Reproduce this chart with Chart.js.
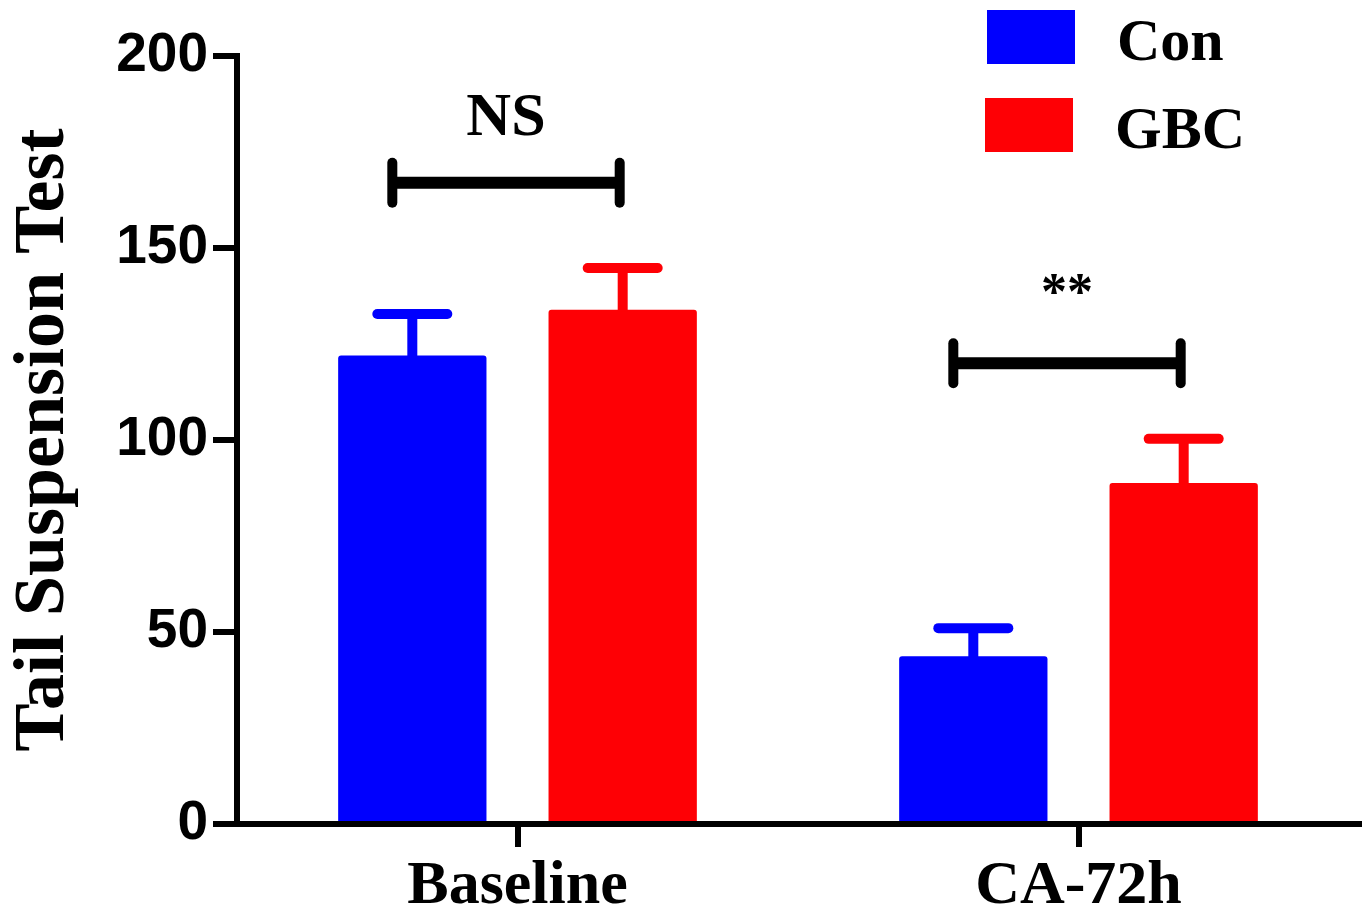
<!DOCTYPE html>
<html>
<head>
<meta charset="utf-8">
<script src="https://cdn.jsdelivr.net/npm/chart.js@4.4.0/dist/chart.umd.min.js"></script>
<style>
    html, body { margin: 0; padding: 0; background: #fff; }
    #wrap { width: 1365px; height: 921px; }
</style>
</head>
<body>
<div id="wrap"><canvas id="tstChart" width="1365" height="921"></canvas></div>
<script>
// Данные графика
const categories = ['Baseline', 'CA-72h'];
const seriesNames = ['Con', 'GBC'];
const conMeans = [122.0, 43.7];
const gbcMeans = [133.9, 88.8];
const conSem = [10.8, 7.3];
const gbcSem = [10.9, 11.5];
const yTicks = [0, 50, 100, 150, 200];
const sigLabels = ['NS', '**'];
const sigLevels = [167, 120];

const SERIF = "'Liberation Serif', 'Times New Roman', serif";
const SANS = "'Liberation Sans', Arial, sans-serif";
const BLUE = 'rgb(0, 0, 254)';
const RED = 'rgb(254, 0, 5)';

// Планки погрешностей (только вверх)
const errorBarsPlugin = {
    id: 'errorBars',
    afterDatasetsDraw(chart) {
        const ctx = chart.ctx;
        const yScale = chart.scales.y;
        const semSets = [conSem, gbcSem];
        chart.data.datasets.forEach((ds, di) => {
            const meta = chart.getDatasetMeta(di);
            meta.data.forEach((bar, i) => {
                const top = yScale.getPixelForValue(ds.data[i] + semSets[di][i]);
                ctx.save();
                ctx.strokeStyle = ds.backgroundColor;
                ctx.lineWidth = 10;
                ctx.lineCap = 'butt';
                ctx.beginPath();
                ctx.moveTo(bar.x, bar.y + 2);
                ctx.lineTo(bar.x, top);
                ctx.stroke();
                ctx.lineCap = 'round';
                ctx.beginPath();
                ctx.moveTo(bar.x - 35, top);
                ctx.lineTo(bar.x + 35, top);
                ctx.stroke();
                ctx.restore();
            });
        });
    }
};

// Скобки значимости и подписи
const sigPlugin = {
    id: 'sigBrackets',
    afterDraw(chart) {
        const ctx = chart.ctx;
        const yScale = chart.scales.y;
        const a = chart.getDatasetMeta(0).data;
        const b = chart.getDatasetMeta(1).data;
        categories.forEach((c, i) => {
            const x1 = a[i].x - 20;
            const x2 = b[i].x - 3;
            const yy = yScale.getPixelForValue(sigLevels[i]);
            ctx.save();
            ctx.strokeStyle = '#000';
            ctx.lineCap = 'butt';
            ctx.lineWidth = 12;
            ctx.beginPath();
            ctx.moveTo(x1, yy);
            ctx.lineTo(x2, yy);
            ctx.stroke();
            ctx.lineCap = 'round';
            ctx.lineWidth = 10;
            [x1, x2].forEach(x => {
                ctx.beginPath();
                ctx.moveTo(x, yy - 20);
                ctx.lineTo(x, yy + 20);
                ctx.stroke();
            });
            ctx.fillStyle = '#000';
            ctx.textAlign = 'center';
            ctx.textBaseline = 'alphabetic';
            if (sigLabels[i] === '**') {
                ctx.font = 'bold 52px ' + SERIF;
                ctx.fillText(sigLabels[i], (x1 + x2) / 2, yy - 54);
            } else {
                ctx.font = 'bold 62px ' + SERIF;
                ctx.fillText(sigLabels[i], (x1 + x2) / 2, yy - 48);
            }
            ctx.restore();
        });
    }
};

// Легенда в правом верхнем углу
const legendPlugin = {
    id: 'cornerLegend',
    afterDraw(chart) {
        const ctx = chart.ctx;
        const left = chart.width - 378;
        ctx.save();
        chart.data.datasets.forEach((ds, i) => {
            const top = 10 + i * 88;
            ctx.fillStyle = ds.backgroundColor;
            ctx.fillRect(left - i * 2, top, 88, 54);
            ctx.fillStyle = '#000';
            ctx.font = 'bold 60px ' + SERIF;
            ctx.textAlign = 'left';
            ctx.textBaseline = 'alphabetic';
            ctx.fillText(ds.label, left + 130 - i * 2, top + 50);
        });
        ctx.restore();
    }
};

function initChart() {
    const ctx = document.getElementById('tstChart');
    new Chart(ctx, {
        type: 'bar',
        data: {
            labels: categories,
            datasets: [
                { label: seriesNames[0], data: conMeans, backgroundColor: BLUE, borderRadius: 3 },
                { label: seriesNames[1], data: gbcMeans, backgroundColor: RED, borderRadius: 3 }
            ]
        },
        options: {
            responsive: false,
            animation: false,
            devicePixelRatio: 1,
            categoryPercentage: 0.75,
            barPercentage: 0.705,
            layout: { padding: { top: 56, right: 6, bottom: 0, left: 0 } },
            plugins: {
                legend: { display: false },
                tooltip: { enabled: false }
            },
            scales: {
                x: {
                    afterFit: s => { s.height = 97; },
                    grid: {
                        offset: false,
                        drawOnChartArea: false,
                        tickLength: 23,
                        lineWidth: 6,
                        color: '#000'
                    },
                    border: { display: true, width: 6, color: '#000' },
                    ticks: {
                        color: '#000',
                        padding: 3,
                        font: { family: SERIF, size: 62, weight: 'bold' }
                    }
                },
                y: {
                    min: 0,
                    max: 200,
                    afterFit: s => { s.width = 237; },
                    afterBuildTicks: s => { s.ticks = yTicks.map(v => ({ value: v })); },
                    grid: {
                        drawOnChartArea: false,
                        tickLength: 24,
                        lineWidth: 6,
                        color: '#000'
                    },
                    border: { display: true, width: 6, color: '#000' },
                    ticks: {
                        color: '#000',
                        padding: 5,
                        font: { family: SANS, size: 55, weight: 'bold' }
                    },
                    title: {
                        display: true,
                        text: 'Tail Suspension Test',
                        color: '#000',
                        padding: { top: 8, bottom: 0 },
                        font: { family: SERIF, size: 72, weight: 'bold', lineHeight: 1 }
                    }
                }
            }
        },
        plugins: [errorBarsPlugin, sigPlugin, legendPlugin]
    });
}

document.addEventListener('DOMContentLoaded', initChart);
</script>
</body>
</html>
